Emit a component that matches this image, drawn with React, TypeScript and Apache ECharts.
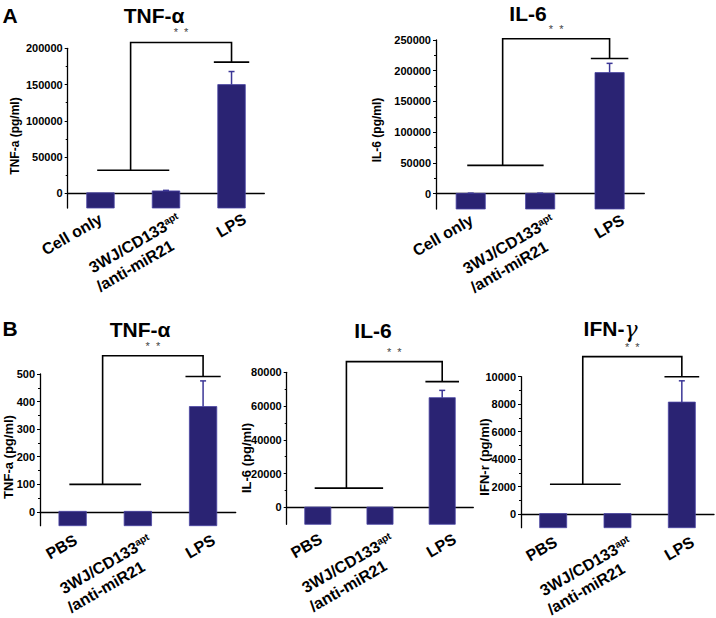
import React, { useEffect, useRef } from 'react';
import * as echarts from 'echarts';

const FONT = "'Liberation Sans', Arial, Helvetica, sans-serif";

// ---- data ----
const categoriesA = ['Cell only', '3WJ/CD133apt/anti-miR21', 'LPS'];
const categoriesB = ['PBS', '3WJ/CD133apt/anti-miR21', 'LPS'];

const panelTitles = ['TNF-α', 'IL-6', 'TNF-α', 'IL-6', 'IFN-γ'];
const yAxisNames = ['TNF-a (pg/ml)', 'IL-6 (pg/ml)', 'TNF-a (pg/ml)', 'IL-6 (pg/ml)', 'IFN-r (pg/ml)'];
const panelLetters = ['A', 'B'];

const meanA_TNF = [1000, 3500, 150000];
const errA_TNF = [0, 800, 18000];
const meanA_IL6 = [500, 500, 197000];
const errA_IL6 = [300, 300, 15000];
const meanB_TNF = [2, 2, 382];
const errB_TNF = [0, 0, 93];
const meanB_IL6 = [200, 200, 65000];
const errB_IL6 = [0, 0, 4300];
const meanB_IFN = [30, 30, 8150];
const errB_IFN = [0, 0, 1550];

const ticksA_TNF = [0, 50000, 100000, 150000, 200000];
const ticksA_IL6 = [0, 50000, 100000, 150000, 200000, 250000];
const ticksB_TNF = [0, 100, 200, 300, 400, 500];
const ticksB_IL6 = [0, 20000, 40000, 60000, 80000];
const ticksB_IFN = [0, 2000, 4000, 6000, 8000, 10000];

const yMins = [-20000, -25000, -50, -10000, -1000];
const yMaxs = [200000, 250000, 500, 80000, 10000];
const yIntervals = [50000, 50000, 100, 20000, 2000];

// significance brackets: lower bar, top bar, bar above LPS
const bracketLow = [32000, 46000, 100, 11400, 2170];
const bracketTop = [208000, 252000, 566, 86300, 11460];
const bracketLPS = [181000, 220000, 491, 74500, 10000];
const sigLabel = '*  *';

// ---- layout / style ----
const grids = [
  { left: 67.7, top: 48.3, width: 196.6, height: 159.7 },
  { left: 436, top: 40, width: 208.3, height: 169 },
  { left: 40, top: 374, width: 195.7, height: 151.7 },
  { left: 286.7, top: 372.3, width: 186.6, height: 152 },
  { left: 521, top: 376.7, width: 193, height: 151 },
];
const titlePos = [
  [154, 15], [528, 13], [140, 329], [373, 330], [609, 328],
];
const yNamePos = [
  [15, 136], [377, 130], [8, 457], [246, 458], [484, 457],
];
const yNameSize = [12, 12, 13, 13, 13];
// x-label anchor (right end, middle of first line) relative to category centre / axis line
const labelDx = [[1, 13, 13], [1, 13, 13], [3, 12, 11], [3, 12, 13], [3, 12, 11]];
const labelDy = [10, 10, 13, 14, 13];

const BAR = '#2a2373';
const BAR_EDGE = '#4a45a3';
const ERR = '#3b3696';

function measure(text: string, size: number): number {
  const cv = document.createElement('canvas');
  const ctx = cv.getContext('2d');
  if (!ctx) return text.length * size * 0.6;
  ctx.font = `bold ${size}px 'Liberation Sans', Arial, sans-serif`;
  return ctx.measureText(text).width;
}

function App() {
  const ref = useRef<HTMLDivElement>(null);
  const ovl = useRef<HTMLDivElement>(null);
  useEffect(() => {
    if (!ref.current) return;
    const chart = echarts.init(ref.current, null, { renderer: 'svg' });

    const means = [meanA_TNF, meanA_IL6, meanB_TNF, meanB_IL6, meanB_IFN];
    const errs = [errA_TNF, errA_IL6, errB_TNF, errB_IL6, errB_IFN];
    const ticks = [ticksA_TNF, ticksA_IL6, ticksB_TNF, ticksB_IL6, ticksB_IFN];
    const cats = [categoriesA, categoriesA, categoriesB, categoriesB, categoriesB];

    const xAxis = grids.map((_, k) => ({
      type: 'category',
      gridIndex: k,
      data: cats[k],
      boundaryGap: true,
      axisLine: { show: true, lineStyle: { color: '#000', width: 1.3 } },
      axisTick: { show: false },
      axisLabel: { show: false },
      splitLine: { show: false },
    }));

    const yAxis = grids.map((_, k) => ({
      type: 'value',
      gridIndex: k,
      min: yMins[k],
      max: yMaxs[k],
      minInterval: yIntervals[k],
      maxInterval: yIntervals[k],
      axisLine: { show: true, lineStyle: { color: '#000', width: 1.3 } },
      axisTick: { show: true, length: 3, inside: false, lineStyle: { color: '#000', width: 1 }, customValues: ticks[k] },
      minorTick: { show: true, splitNumber: 2, length: 2, lineStyle: { color: '#000', width: 1 } },
      axisLabel: {
        margin: 5,
        fontSize: 11,
        fontWeight: 'bold',
        fontFamily: FONT,
        color: '#000',
        customValues: ticks[k],
        formatter: (v: number) => String(v),
      },
      splitLine: { show: false },
    }));

    const barSeries = grids.map((_, k) => ({
      type: 'custom',
      xAxisIndex: k,
      yAxisIndex: k,
      clip: false,
      encode: { x: 0, y: 1 },
      data: means[k].map((m, i) => [i, m, errs[k][i]]),
      renderItem: (params: any, api: any) => {
        const i = api.value(0);
        const v = api.value(1);
        const e = api.value(2);
        const base = api.coord([i, yMins[k]]);
        const top = api.coord([i, v]);
        const band = api.size([1, 0])[0];
        const w = band * 0.42;
        const children: any[] = [
          {
            type: 'rect',
            shape: { x: top[0] - w / 2, y: top[1], width: w, height: base[1] - top[1] },
            style: { fill: BAR, stroke: BAR_EDGE, lineWidth: 0.8 },
          },
        ];
        if (e > 0) {
          const et = api.coord([i, v + e]);
          children.push({
            type: 'line',
            shape: { x1: top[0], y1: top[1], x2: top[0], y2: et[1] },
            style: { stroke: ERR, lineWidth: 1.5 },
          });
          children.push({
            type: 'line',
            shape: { x1: top[0] - 3, y1: et[1], x2: top[0] + 3, y2: et[1] },
            style: { stroke: ERR, lineWidth: 1.5 },
          });
        }
        return { type: 'group', children };
      },
      z: 2,
    }));

    const bracketSeries = grids.map((_, k) => ({
      type: 'custom',
      xAxisIndex: k,
      yAxisIndex: k,
      clip: false,
      encode: { x: 0, y: 1 },
      data: [[2, bracketLow[k], bracketTop[k], bracketLPS[k]]],
      renderItem: (params: any, api: any) => {
        const low = api.value(1);
        const topV = api.value(2);
        const lps = api.value(3);
        const band = api.size([1, 0])[0];
        const c0 = api.coord([0, low]);
        const c1 = api.coord([1, low]);
        const ct = api.coord([2, topV]);
        const cl = api.coord([2, lps]);
        const xm = c0[0] + 0.46 * band;
        const st = { stroke: '#000', lineWidth: 1.6, fill: null };
        return {
          type: 'group',
          children: [
            { type: 'line', shape: { x1: c0[0] - 0.05 * band, y1: c0[1], x2: c1[0] + 0.05 * band, y2: c1[1] }, style: st },
            {
              type: 'polyline',
              shape: { points: [[xm, c0[1]], [xm, ct[1]], [ct[0], ct[1]], [ct[0], cl[1]]] },
              style: st,
            },
            { type: 'line', shape: { x1: ct[0] - 0.27 * band, y1: cl[1], x2: ct[0] + 0.27 * band, y2: cl[1] }, style: st },
            {
              type: 'text',
              x: (xm + ct[0]) / 2,
              y: ct[1] - 10,
              style: { text: sigLabel, fontSize: 11, fontFamily: FONT, fill: '#444', align: 'center', verticalAlign: 'middle' },
            },
          ],
        };
      },
      z: 3,
    }));

    chart.setOption({
      animation: false,
      backgroundColor: '#fff',
      grid: grids,
      xAxis,
      yAxis,
      series: [...barSeries, ...bracketSeries],
    });

    const graphic: any[] = [];
    panelLetters.forEach((l, i) => {
      graphic.push({
        type: 'text',
        x: 10,
        y: i === 0 ? 15 : 328,
        style: { text: l, fontSize: 21, fontWeight: 'bold', fontFamily: FONT, fill: '#000', align: 'center', verticalAlign: 'middle' },
      });
    });
    panelTitles.forEach((t, k) => {
      const isG = t.indexOf('γ') >= 0;
      if (isG) {
        const base = t.replace('γ', '');
        const wb = measure(base, 21);
        const total = wb + 10;
        const x0 = titlePos[k][0] - total / 2;
        graphic.push({
          type: 'text',
          x: x0,
          y: titlePos[k][1],
          style: { text: base, fontSize: 21, fontWeight: 'bold', fontFamily: FONT, fill: '#000', align: 'left', verticalAlign: 'middle' },
        });
        graphic.push({
          type: 'text',
          x: x0 + wb,
          y: titlePos[k][1] + 1,
          style: { text: 'γ', fontSize: 22, fontStyle: 'italic', fontFamily: "'DejaVu Serif', serif", fill: '#000', align: 'left', verticalAlign: 'middle' },
        });
      } else {
        graphic.push({
          type: 'text',
          x: titlePos[k][0],
          y: titlePos[k][1],
          style: { text: t, fontSize: 21, fontWeight: 'bold', fontFamily: FONT, fill: '#000', align: 'center', verticalAlign: 'middle' },
        });
      }
    });
    yAxisNames.forEach((n, k) => {
      graphic.push({
        type: 'text',
        x: yNamePos[k][0],
        y: yNamePos[k][1],
        rotation: Math.PI / 2,
        style: { text: n, fontSize: yNameSize[k], fontWeight: 'bold', fontFamily: FONT, fill: '#000', align: 'center', verticalAlign: 'middle' },
      });
    });
    chart.setOption({ graphic });

    // rotated category labels placed on the axis' own category positions
    const host = ovl.current;
    if (host) {
      host.innerHTML = '';
      grids.forEach((_, k) => {
        cats[k].forEach((c, i) => {
          const p = chart.convertToPixel({ gridIndex: k }, [i, yMins[k]]) as number[];
          const ox = p[0] + labelDx[k][i];
          const oy = p[1] + labelDy[k];
          const d = document.createElement('div');
          d.style.cssText =
            `position:absolute;left:${ox}px;top:${oy}px;white-space:nowrap;` +
            `font-family:${FONT};font-weight:bold;font-size:16px;line-height:20px;color:#000;text-align:left;` +
            `transform-origin:0 0;transform:rotate(-30deg) translate(-100%,-10px);`;
          if (c.indexOf('3WJ') === 0) {
            const l1 = document.createElement('div');
            l1.appendChild(document.createTextNode('3WJ/CD133'));
            const sup = document.createElement('span');
            sup.textContent = 'apt';
            sup.style.cssText = 'font-size:10px;vertical-align:5px;line-height:0;';
            l1.appendChild(sup);
            const l2 = document.createElement('div');
            l2.textContent = '/anti-miR21';
            l2.style.marginLeft = '-3px';
            d.appendChild(l1);
            d.appendChild(l2);
          } else {
            d.textContent = c;
          }
          host.appendChild(d);
        });
      });
    }

    return () => {
      chart.dispose();
      if (host) host.innerHTML = '';
    };
  }, []);
  return (
    <div style={{ position: 'absolute', left: 0, top: 0, width: 716, height: 618 }}>
      <div ref={ref} style={{ position: 'absolute', left: 0, top: 0, width: 716, height: 618 }} />
      <div ref={ovl} style={{ position: 'absolute', left: 0, top: 0, width: 716, height: 618, pointerEvents: 'none' }} />
    </div>
  );
}

export default App;
